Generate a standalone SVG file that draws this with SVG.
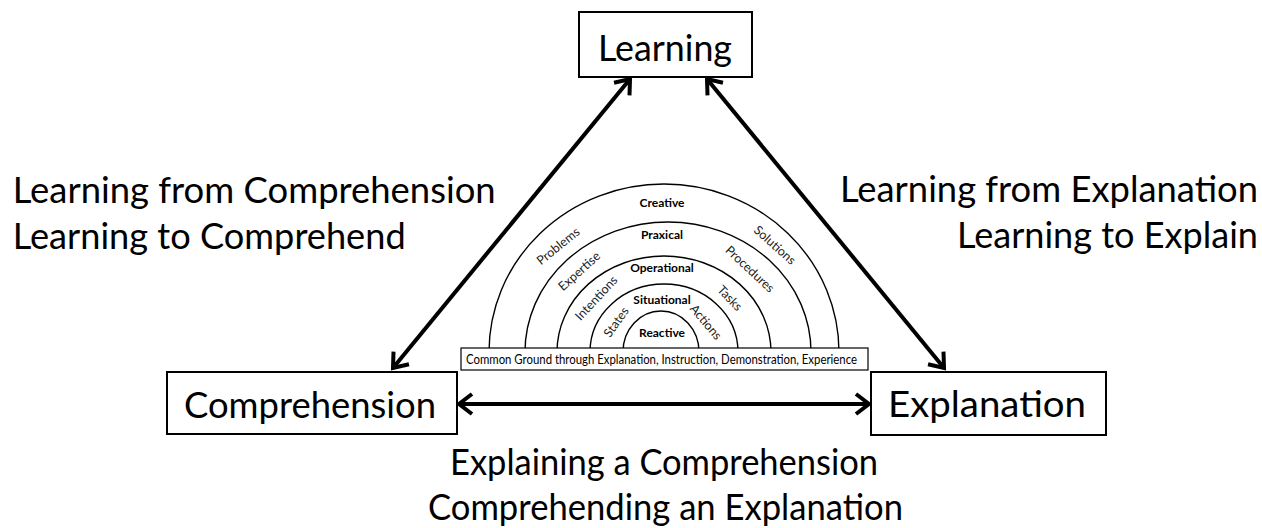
<svg xmlns="http://www.w3.org/2000/svg" width="1262" height="528" viewBox="0 0 1262 528">
<defs>
<style>
.big{font-family:Lato,"Open Sans","Liberation Sans",sans-serif;font-size:36px;fill:#000}
.box{fill:#fff;stroke:#000;stroke-width:2}
.arc{fill:none;stroke:#000;stroke-width:1.4}
.lvl{font-family:Lato,"Liberation Sans",sans-serif;font-size:12px;font-weight:bold;fill:#000;text-anchor:middle}
.side{font-family:Lato,"Liberation Sans",sans-serif;font-size:12.5px;fill:#222;text-anchor:middle;dominant-baseline:central}
.conn{stroke:#000;stroke-width:4;fill:none;marker-start:url(#ah);marker-end:url(#ah)}
</style>
<marker id="ah" markerUnits="userSpaceOnUse" viewBox="-20 -14 24 28" refX="0" refY="0" markerWidth="24" markerHeight="28" orient="auto-start-reverse">
<path d="M-13,-10 L0,0 L-13,10" fill="none" stroke="#000" stroke-width="4" stroke-linejoin="miter"/>
</marker>
</defs>
<rect width="1262" height="528" fill="#fff"/>
<g id="connectors">
<line class="conn" x1="393" y1="368" x2="630" y2="79"/>
<line class="conn" x1="707" y1="79" x2="944" y2="368"/>
<line class="conn" x1="459" y1="404" x2="869" y2="404"/>
</g>
<g id="node-learning">
<rect class="box" x="579" y="12" width="173" height="65"/>
<text class="big" x="598" y="61" textLength="134" lengthAdjust="spacingAndGlyphs">Learning</text>
</g>
<g id="node-comprehension">
<rect class="box" x="167" y="372" width="290" height="62"/>
<text class="big" x="184" y="418" textLength="252" lengthAdjust="spacingAndGlyphs">Comprehension</text>
</g>
<g id="node-explanation">
<rect class="box" x="871" y="372" width="235" height="63"/>
<text class="big" x="888" y="417" textLength="198" lengthAdjust="spacingAndGlyphs">Explanation</text>
</g>
<g id="label-left">
<text class="big" x="12.7" y="203" textLength="483" lengthAdjust="spacingAndGlyphs">Learning from Comprehension</text>
<text class="big" x="12.7" y="249" textLength="393" lengthAdjust="spacingAndGlyphs">Learning to Comprehend</text>
</g>
<g id="label-right">
<text class="big" x="840" y="202" textLength="418" lengthAdjust="spacingAndGlyphs">Learning from Explanation</text>
<text class="big" x="957" y="248" textLength="301" lengthAdjust="spacingAndGlyphs">Learning to Explain</text>
</g>
<g id="label-bottom">
<text class="big" x="450" y="475" textLength="428" lengthAdjust="spacingAndGlyphs">Explaining a Comprehension</text>
<text class="big" x="428" y="520" textLength="475" lengthAdjust="spacingAndGlyphs">Comprehending an Explanation</text>
</g>
<g id="node-levels">
<path class="arc" d="M489,352 A175,168 0 0 1 839,352"/>
<path class="arc" d="M525,352 A143,130 0 0 1 811,352"/>
<path class="arc" d="M557,352 A107,96 0 0 1 771,352"/>
<path class="arc" d="M590,352 A74,68 0 0 1 738,352"/>
<path class="arc" d="M623,352 A38,41 0 0 1 699,352"/>
<text class="lvl" x="662" y="207">Creative</text>
<text class="lvl" x="662" y="239">Praxical</text>
<text class="lvl" x="662" y="272">Operational</text>
<text class="lvl" x="662" y="304">Situational</text>
<text class="lvl" x="662" y="337">Reactive</text>
<text class="side" transform="translate(558,246) rotate(-39)">Problems</text>
<text class="side" transform="translate(579,271) rotate(-42)">Expertise</text>
<text class="side" transform="translate(596,298) rotate(-47)">Intentions</text>
<text class="side" transform="translate(616,322) rotate(-55)">States</text>
<text class="side" transform="translate(775,245) rotate(42)">Solutions</text>
<text class="side" transform="translate(750,269) rotate(43)">Procedures</text>
<text class="side" transform="translate(730,298) rotate(46)">Tasks</text>
<text class="side" transform="translate(706,322) rotate(50)">Actions</text>
<rect x="461" y="348" width="407" height="22" fill="#fff" stroke="#000" stroke-width="1.2"/>
<text x="466" y="364" font-family="Lato,'Liberation Sans',sans-serif" font-size="12.5" fill="#000" textLength="391" lengthAdjust="spacingAndGlyphs">Common Ground through Explanation, Instruction, Demonstration, Experience</text>
</g>
</svg>
